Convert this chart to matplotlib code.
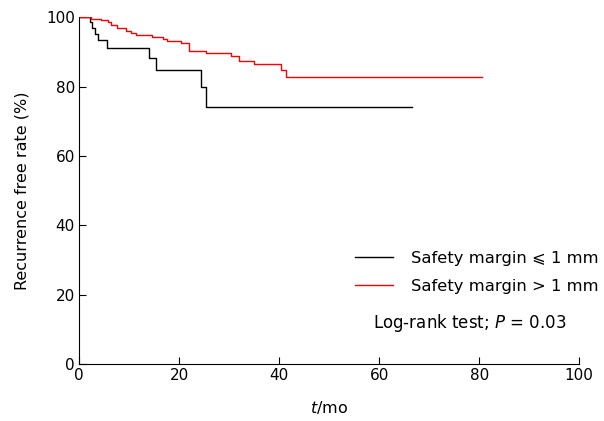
import matplotlib
matplotlib.use("Agg")
import matplotlib.pyplot as plt

# Kaplan-Meier step points (time in months, rate in %)
t_small = [0, 2.2, 2.6, 3.1, 3.8, 5.6, 13.9, 15.4, 24.3, 25.4, 66.6]
s_small = [100, 98.6, 96.9, 95.3, 93.4, 91.2, 88.2, 84.8, 80.0, 74.2, 74.2]

t_large = [0, 2.4, 4.4, 5.7, 6.4, 7.5, 9.4, 10.4, 11.3, 14.6, 16.7, 17.5,
           20.3, 21.9, 25.4, 30.3, 31.9, 35.0, 40.4, 41.4, 80.5]
s_large = [100, 99.6, 99.1, 98.5, 97.8, 96.8, 96.1, 95.5, 95.0, 94.3, 93.8, 93.3,
           92.5, 90.4, 89.6, 88.7, 87.4, 86.4, 84.7, 82.9, 82.9]

labels = ["Safety margin \u2a7d 1 mm", "Safety margin > 1 mm"]
xticks = [0, 20, 40, 60, 80, 100]
yticks = [0, 20, 40, 60, 80, 100]

plt.rcParams["font.family"] = ["DejaVu Sans", "Noto Sans CJK SC"]
plt.rcParams["font.size"] = 11

fig = plt.figure(figsize=(6.04, 4.21), dpi=100)
ax = fig.add_axes([0.131, 0.135, 0.828, 0.824])

ax.step(t_small, s_small, where="post", color="black", lw=1.0, label=labels[0])
ax.step(t_large, s_large, where="post", color="#ff0000", lw=1.0, label=labels[1])

ax.set_xlim(0, 100)
ax.set_ylim(0, 100)
ax.set_xticks(xticks)
ax.set_yticks(yticks)
ax.tick_params(direction="in", length=5, width=0.8, pad=3, labelsize=11)
for s in ("top", "right"):
    ax.spines[s].set_visible(False)
for s in ("left", "bottom"):
    ax.spines[s].set_linewidth(0.8)

ax.set_xlabel("$\\it{t}$/mo", fontsize=11.5, labelpad=11)
ax.set_ylabel("Recurrence free rate (%)", fontsize=11.5, labelpad=12)

ax.legend(loc="upper left", bbox_to_anchor=(0.552, 0.326), frameon=False,
          fontsize=11.8, borderpad=0, borderaxespad=0,
          handlelength=2.3, handletextpad=1.1, labelspacing=0.78)
ax.text(0.587, 0.118, "Log-rank test; $\\it{P}$ = 0.03", transform=ax.transAxes,
        ha="left", va="center", fontsize=12)

fig.savefig("out.png", dpi=100)
